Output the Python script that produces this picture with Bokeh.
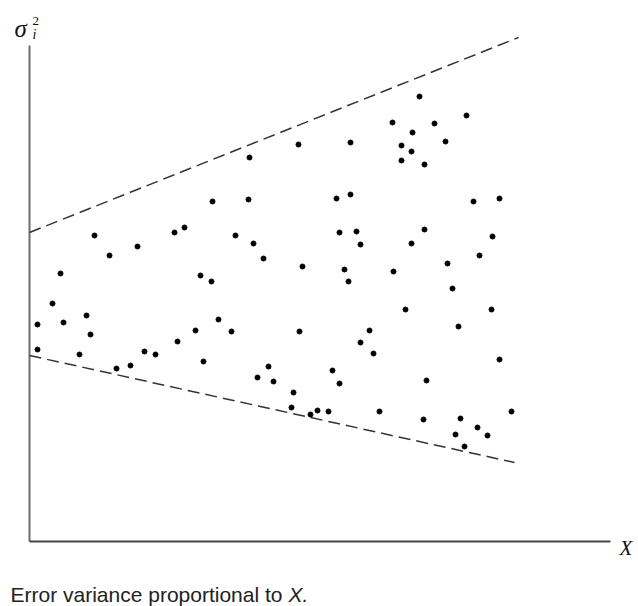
from bokeh.plotting import figure
from bokeh.embed import file_html
from bokeh.resources import INLINE
from bokeh.core.properties import value
from bokeh.models import ColumnDataSource

# Scatter points (X, sigma_i^2), arbitrary units
pt_x = [269, 220, 183, 219, 65, 145, 155, 206, 224, 108, 80, 234, 273, 31, 171, 182,
        390, 437, 363, 405, 383, 416, 321, 372, 382, 372, 395, 307, 321, 444, 470,
        310, 327, 331, 395, 382, 463, 450, 315, 319, 364, 418, 423,
        23, 8, 34, 57, 61, 8, 50, 87, 101, 115, 126, 148, 166, 174, 189, 202,
        228, 239, 244, 270, 264, 262, 281, 288,
        376, 462, 340, 429, 331, 344, 470, 303, 310, 397, 299, 350, 394, 431,
        448, 426, 458, 435, 482]
pt_y = [397, 384, 340, 342, 306, 309, 314, 306, 298, 295, 286, 283, 275, 268, 266, 260,
        445, 426, 419, 418, 409, 400, 399, 396, 390, 381, 377, 343, 347, 340, 343,
        309, 310, 297, 312, 298, 305, 286, 272, 260, 270, 278, 253,
        238, 217, 219, 226, 207, 192, 187, 173, 176, 190, 187, 200, 211, 180, 222, 210,
        164, 175, 160, 210, 149, 134, 127, 131,
        232, 232, 211, 215, 199, 188, 182, 171, 158, 161, 130, 130, 122, 123,
        114, 107, 106, 95, 130]

# Envelope lines (start/end)
upper_x = [0, 489]
upper_y = [309, 504]
lower_x = [0, 485]
lower_y = [186, 79]

# Axis extents
x_axis_end = 581
y_axis_end = 496

W, H = 638, 606
p = figure(width=W, height=H, x_range=(-29, 609), y_range=(-65, 541),
           output_backend="svg", toolbar_location=None, tools="",
           min_border=0, min_border_left=0, min_border_right=0,
           min_border_top=0, min_border_bottom=0)
p.axis.visible = False
p.grid.visible = False
p.outline_line_color = None
p.background_fill_color = "white"
p.border_fill_color = "white"

# axes drawn as lines
p.segment(x0=[0, 0], y0=[0, 0], x1=[0, x_axis_end], y1=[y_axis_end, 0],
          line_color=["#6e6e6e", "#444444"], line_width=2)

# envelope dashed lines
p.line(upper_x, upper_y, line_color="#333333", line_width=1.5, line_dash="12 6")
p.line(lower_x, lower_y, line_color="#333333", line_width=1.5, line_dash="12 6")

# points
src = ColumnDataSource(dict(x=pt_x, y=pt_y))
p.scatter("x", "y", source=src, size=5, fill_color="black", line_color="black")

# labels
p.text(x=[-15], y=[513], text=["σ"], text_font=value("Liberation Serif"),
       text_font_style="italic", text_font_size="25px", text_color="#111111",
       text_baseline="alphabetic", text_align="left")
p.text(x=[3], y=[521], text=["2"], text_font=value("Liberation Serif"),
       text_font_size="13px", text_color="#111111",
       text_baseline="alphabetic", text_align="left")
p.text(x=[3], y=[507], text=["i"], text_font=value("Liberation Serif"),
       text_font_style="italic", text_font_size="14px", text_color="#111111",
       text_baseline="alphabetic", text_align="left")
p.text(x=[590], y=[-6], text=["X"], text_font=value("Liberation Serif"),
       text_font_style="italic", text_font_size="21px", text_color="#111111",
       text_baseline="alphabetic", text_align="left")
p.text(x=[-19], y=[-53], text=["Error variance proportional to "],
       text_font=value("Liberation Sans"), text_font_size="21px", text_color="#222222",
       text_baseline="alphabetic", text_align="left")
p.text(x=[259], y=[-53], text=["X."],
       text_font=value("Liberation Sans"), text_font_style="italic",
       text_font_size="21px", text_color="#222222",
       text_baseline="alphabetic", text_align="left")

open("out.html", "w").write(file_html(p, INLINE))
